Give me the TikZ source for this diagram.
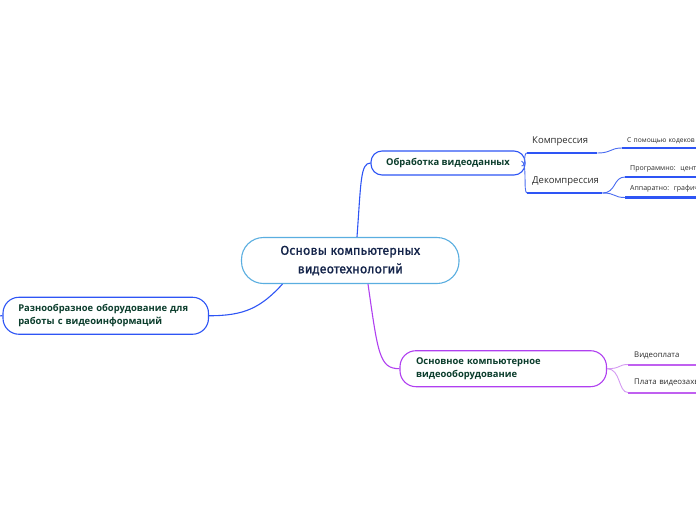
\documentclass[tikz,border=0pt]{standalone}
\usepackage{fontspec}
\setmainfont{Open Sans}
\newfontfamily\titlefont{Fira Sans}[RawFeature={embolden=1}]
\definecolor{cblue}{HTML}{5AAEE0}
\definecolor{mblue}{HTML}{2E55F5}
\definecolor{lblue}{HTML}{4A6CF0}
\definecolor{mpurp}{HTML}{B040F0}
\definecolor{lpurp}{HTML}{D49AF2}
\definecolor{upurp}{HTML}{C060F0}
\definecolor{dgreen}{HTML}{0B3D2C}
\definecolor{navy}{HTML}{14244A}
\definecolor{leaftext}{HTML}{2A2A2A}
\begin{document}
\begin{tikzpicture}[x=1pt,y=-1pt,
  topbox/.style={draw, line width=1.1pt, fill=white, inner sep=0pt},
  boldtext/.style={text=dgreen, font=\bfseries\fontsize{9.4}{13.3}\selectfont},
  conn/.style={line width=1.1pt},
  subconn/.style={line width=0.9pt},
  leaf/.style={anchor=south west, inner ysep=0pt, text depth=0pt, align=left, text=leaftext},
  bline/.style={line width=2.4pt, mblue},
  pline/.style={line width=2pt, upurp}
]
\useasboundingbox (0,0) rectangle (696,520);
\clip (0,0) rectangle (696,520);

% central node
\node[topbox, draw=cblue, minimum width=217.5pt, minimum height=46pt, rounded corners=22pt,
  align=center, text=navy, font=\titlefont\fontsize{12.8}{18.5}\selectfont] (c) at (350.25,260.5)
  {Основы компьютерных\\видеотехнологий};

% left node
\node[topbox, draw=mblue, minimum width=205.5pt, minimum height=37pt, rounded corners=16pt,
  text width=175pt, inner xsep=15.25pt, align=left, boldtext] (l) at (105.75,315.75)
  {Разнообразное оборудование для\\работы с видеоинформаций};
\coordinate (lout) at (-6,316);

% top node
\node[topbox, draw=mblue, minimum width=154pt, minimum height=24pt, rounded corners=11pt,
  boldtext] (o) at (448,163) {Обработка видеоданных};

% bottom node
\node[topbox, draw=mpurp, minimum width=206.5pt, minimum height=36pt, rounded corners=16pt,
  text width=174.5pt, inner xsep=16pt, align=left, boldtext, font=\bfseries\fontsize{9.4}{13.8}\selectfont] (b) at (503.25,368.7)
  {Основное компьютерное\\видеооборудование};

% main connectors
\draw[conn, mblue] ([xshift=6.75pt]c.north) .. controls +(4,-55) and +(-10,0) .. (o.west);
\draw[conn, mblue] ([xshift=-67.75pt]c.south) .. controls +(-22,24) and +(35,0) .. (l.east);
\draw[conn, mblue] (l.west) -- (lout);
\draw[conn, mpurp] ([xshift=17.75pt]c.south) .. controls +(10,70) and +(-20,0) .. (b.west);

% level 2 leaves
\node[leaf, minimum width=70pt, text width=60pt, inner xsep=5pt, inner ysep=9.5pt,
  font=\fontsize{9.5}{11}\selectfont] (kom) at (527,153) {Компрессия};
\node[leaf, minimum width=75pt, text width=65pt, inner xsep=5pt, inner ysep=9pt,
  font=\fontsize{9.5}{11}\selectfont] (dek) at (527,193) {Декомпрессия};
\draw[bline] (kom.south west) -- (kom.south east);
\draw[bline] (dek.south west) -- (dek.south east);
\draw[subconn, lblue] ([xshift=-4pt,yshift=-3pt]o.east) .. controls +(5,0) and +(-4,0) .. (kom.south west);
\draw[subconn, lblue] ([xshift=-4pt,yshift=2pt]o.east) .. controls +(6,2) and +(-4,0) .. (dek.south west);

% level 3 leaves
\node[leaf, minimum width=200pt, text width=190pt, inner xsep=1.5pt, inner ysep=5pt,
  font=\fontsize{6.7}{8}\selectfont] (cpk) at (622,148) {С помощью кодеков};
\node[leaf, minimum width=200pt, text width=190pt, inner xsep=3pt, inner ysep=6.5pt,
  font=\fontsize{7}{8}\selectfont] (prog) at (625,177) {Программно:\ \ центральный процессор};
\node[leaf, minimum width=200pt, text width=190pt, inner xsep=3pt, inner ysep=6.5pt,
  font=\fontsize{7}{8}\selectfont] (app) at (625,197.5) {Аппаратно:\ \ графический процессор};
\draw[bline] (cpk.south west) -- (cpk.south east);
\draw[bline] (prog.south west) -- (prog.south east);
\draw[bline] (app.south west) -- (app.south east);
\draw[subconn, lblue] (kom.south east) .. controls +(14,0) and +(-12,0) .. (cpk.south west);
\draw[subconn, lblue] (dek.south east) .. controls +(14,0) and +(-12,0) .. (prog.south west);
\draw[subconn, lblue] (dek.south east) .. controls +(14,0) and +(-12,0) .. (app.south west);

% purple leaves
\node[leaf, minimum width=200pt, text width=188pt, inner xsep=6pt, inner ysep=7pt,
  font=\fontsize{7.8}{9}\selectfont] (vid) at (628,364.5) {Видеоплата};
\node[leaf, minimum width=200pt, text width=188pt, inner xsep=6pt, inner ysep=7.5pt,
  font=\fontsize{7.8}{9}\selectfont] (pla) at (628,392.5) {Плата видеозахвата};
\draw[pline] (vid.south west) -- (vid.south east);
\draw[pline] (pla.south west) -- (pla.south east);
\draw[subconn, lpurp] (b.east) .. controls +(14,0) and +(-10,0) .. (vid.south west);
\draw[subconn, lpurp] (b.east) .. controls +(14,0) and +(-10,0) .. (pla.south west);
\end{tikzpicture}
\end{document}
